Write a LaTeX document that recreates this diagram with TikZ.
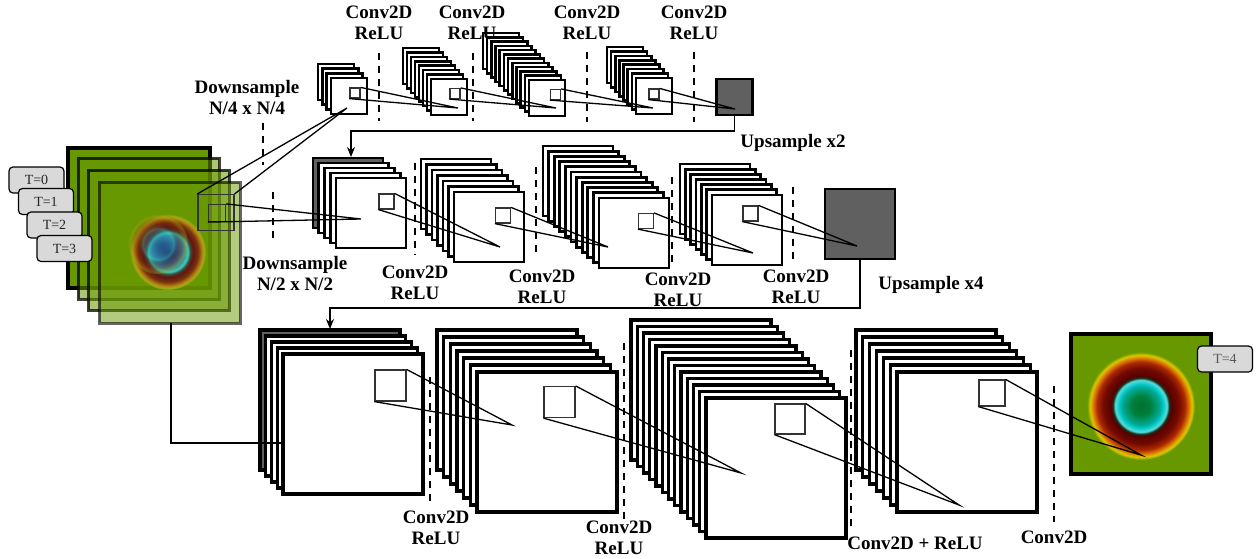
\documentclass[tikz,border=0pt]{standalone}
\usepackage{fontspec}
\setmainfont{Liberation Serif}
\usetikzlibrary{arrows.meta}

\definecolor{fgreen}{RGB}{104,152,0}
\definecolor{dgray}{RGB}{96,96,96}
\definecolor{tbox}{RGB}{217,217,217}

\definecolor{vo0}{RGB}{0,112,45}
\definecolor{vo1}{RGB}{0,128,60}
\definecolor{vo2}{RGB}{0,170,150}
\definecolor{vo3}{RGB}{0,200,200}
\definecolor{vo4}{RGB}{90,222,222}
\definecolor{vo5}{RGB}{20,60,30}
\definecolor{vo6}{RGB}{85,0,0}
\definecolor{vo7}{RGB}{115,10,0}
\definecolor{vo8}{RGB}{170,40,0}
\definecolor{vo9}{RGB}{220,120,0}
\definecolor{vo10}{RGB}{222,200,0}

\definecolor{vi0}{RGB}{30,50,110}
\definecolor{vi1}{RGB}{40,100,150}
\definecolor{vi2}{RGB}{50,150,170}
\definecolor{vi3}{RGB}{60,210,190}
\definecolor{vi4}{RGB}{60,80,60}
\definecolor{vi5}{RGB}{100,20,20}
\definecolor{vi6}{RGB}{120,50,10}
\definecolor{vi7}{RGB}{180,130,20}
\definecolor{vi8}{RGB}{170,170,20}

% TikZ maps a radius of 25bp of a radial shading onto the edge of the path
\pgfdeclareradialshading{vortexout}{\pgfpoint{0bp}{0bp}}{%
color(0bp)=(vo0); color(4.5bp)=(vo1); color(8.8bp)=(vo2); color(10.2bp)=(vo3);
color(12bp)=(vo4); color(13bp)=(vo5); color(13.9bp)=(vo6); color(17.5bp)=(vo7);
color(20.35bp)=(vo8); color(22.2bp)=(vo9); color(23.6bp)=(vo10); color(25bp)=(fgreen);
color(50bp)=(fgreen)}

\pgfdeclareradialshading{vortexin}{\pgfpoint{0bp}{0bp}}{%
color(0bp)=(vi0); color(6.5bp)=(vi1); color(11bp)=(vi2); color(13bp)=(vi3);
color(14.5bp)=(vi4); color(16.5bp)=(vi5); color(19.75bp)=(vi6); color(22.35bp)=(vi7);
color(23.7bp)=(vi8); color(25bp)=(fgreen); color(50bp)=(fgreen)}

% stack of feature maps: #1 layers, #2,#3 back corner, #4,#5 front corner, #6 size, #7 style, #8 extra style of back layer
\newcommand{\fmstack}[8]{%
  \pgfmathtruncatemacro{\fmlast}{#1-1}%
  \foreach \fmi in {0,...,\fmlast}{%
    \pgfmathsetmacro{\fmx}{#2+(#4-#2)*\fmi/\fmlast}%
    \pgfmathsetmacro{\fmy}{#3+(#5-#3)*\fmi/\fmlast}%
    \ifnum\fmi=0 \draw[#7,#8] (\fmx,\fmy) rectangle ++(#6,#6);%
    \else \draw[#7] (\fmx,\fmy) rectangle ++(#6,#6);\fi
  }%
}

\begin{document}
\begin{tikzpicture}[x=1pt,y=-1pt,
  layT/.style={fill=white,draw=black,line width=2.6pt},
  layM/.style={fill=white,draw=black,line width=2.9pt},
  layB/.style={fill=white,draw=black,line width=3.1pt},
  sq/.style={draw=black!80,fill=white,line width=1.2pt,inner sep=0pt,minimum size=#1},
  proj/.style={line width=1.3pt,draw=black},
  conn/.style={line width=1.3pt,draw=black},
  dsh/.style={line width=2.5pt,dash pattern=on 7pt off 6pt},
  lbl/.style={font=\fontsize{19}{21}\selectfont\bfseries,align=center,inner sep=0pt},
  tlab/.style={draw=black,fill=tbox,rounded corners=4pt,line width=1.2pt,minimum width=55pt,
    minimum height=26pt,inner sep=0pt,font=\fontsize{14}{16}\selectfont,text=black!85},
  graybox/.style={draw=black,fill=dgray,inner sep=0pt,minimum size=#1},
  inlay/.style={line width=3pt,draw=black,draw opacity=0.75,fill=fgreen,fill opacity=0.55}
]
\useasboundingbox (0,0) rectangle (1258,558);

% ---------- input stack ----------
\draw[line width=4pt,fill=fgreen] (68,148) rectangle (210,288);
\draw[inlay] (78,158) rectangle (219,299);
\draw[inlay] (88,170) rectangle (229,310);
\draw[inlay,draw opacity=0.6,fill opacity=0.5] (99,182) rectangle (240,323);
\shade[shading=vortexin] (168,252) circle[radius=38];
\begin{scope}[transparency group,opacity=0.35]
\shade[shading=vortexin] (158,244) circle[radius=30];
\end{scope}
\node[sq=36pt,fill=none] (sIn) at (216,212.5) {};
\node[sq=17pt,fill=none] (sInS) at (217,213) {};
\coordinate (inBot) at (171,323);

\node[tlab] (t0) at (36.5,180) {T=0};
\node[tlab] (t1) at (46,201.5) {T=1};
\node[tlab] (t2) at (54.5,225) {T=2};
\node[tlab] (t3) at (64.5,248.5) {T=3};

% ---------- top row ----------
\fmstack{4}{318}{64}{331}{78}{36}{layT}{}
\fmstack{8}{403}{48}{431}{79}{36}{layT}{}
\fmstack{12}{483}{33}{529}{80}{36}{layT}{}
\fmstack{8}{607}{47}{636}{78}{36}{layT}{}
\node[graybox=36pt,line width=2.5pt] (gT) at (734.5,97) {};

% ---------- middle row ----------
\fmstack{5}{313}{158}{336}{178}{70}{layM}{fill=dgray}
\fmstack{7}{421}{159}{454}{192}{70}{layM}{}
\fmstack{11}{543}{146}{599}{198}{70}{layM}{}
\fmstack{7}{680}{164}{712}{195}{70}{layM}{}
\node[graybox=70pt,line width=2.8pt] (gM) at (860,224) {};

% ---------- bottom row ----------
\fmstack{5}{260}{330}{283}{354}{140}{layB}{fill=dgray}
\fmstack{7}{437}{330}{477}{372}{140}{layB}{}
\fmstack{13}{631}{320}{706}{398}{140}{layB}{}
\fmstack{7}{856}{330}{897}{372}{140}{layB}{}
\node[draw=black,fill=fgreen,line width=4pt,inner sep=0pt,minimum size=140pt] (out) at (1141,403.5) {};
\shade[shading=vortexout] (1141,406) circle[radius=54];
\node[tlab,text=black!65] (t4) at (1225,359) {T=4};

% ---------- small squares ----------
\node[sq=10pt] (sT1) at (355,93) {};
\node[sq=10pt] (sT2) at (455,93.5) {};
\node[sq=10pt] (sT3) at (555.5,94.5) {};
\node[sq=10pt] (sT4) at (654,94) {};
\node[sq=15pt] (sM1) at (386.5,201.5) {};
\node[sq=15pt] (sM2) at (503,215.5) {};
\node[sq=15pt] (sM3) at (646,221) {};
\node[sq=15pt] (sM4) at (750.5,213.5) {};
\node[sq=31pt] (sB1) at (390.5,385.5) {};
\node[sq=31pt] (sB2) at (559.5,402) {};
\node[sq=30pt] (sB3) at (790,419) {};
\node[sq=26pt] (sB4) at (992,393) {};

% convergence points
\coordinate (cT1) at (347,108);
\coordinate (cT2) at (458,108);
\coordinate (cT3) at (556,108);
\coordinate (cT4) at (653,108);
\coordinate (cT5) at (735,109);
\coordinate (cM1) at (361,219);
\coordinate (cM2) at (500,247);
\coordinate (cM3) at (608,247);
\coordinate (cM4) at (753,253);
\coordinate (cM5) at (857,246);
\coordinate (cB2) at (512,425);
\coordinate (cB3) at (741,473);
\coordinate (cB4) at (959,505);
\coordinate (cOut) at (1141,455);

% ---------- projection lines ----------
\draw[proj] (sIn.north west) -- (cT1) -- (sIn.north east);
\draw[proj] (sInS.north east) -- (cM1) -- (sInS.south west);
\draw[proj] (sT1.north east) -- (cT2) -- (sT1.south west);
\draw[proj] (sT2.north east) -- (cT3) -- (sT2.south west);
\draw[proj] (sT3.north east) -- (cT4) -- (sT3.south west);
\draw[proj] (sT4.north east) -- (cT5) -- (sT4.south west);
\draw[proj] (sM1.north east) -- (cM2) -- (sM1.south west);
\draw[proj] (sM2.north east) -- (cM3) -- (sM2.south west);
\draw[proj] (sM3.north east) -- (cM4) -- (sM3.south west);
\draw[proj] (sM4.north east) -- (cM5) -- (sM4.south west);
\draw[proj] (sB1.north east) -- (cB2) -- (sB1.south west);
\draw[proj] (sB2.north east) -- (cB3) -- (sB2.south west);
\draw[proj] (sB3.north east) -- (cB4) -- (sB3.south west);
\draw[proj] (sB4.north east) -- (cOut) -- (sB4.south west);

% ---------- dashed separators ----------
\draw[dsh] (263,123) -- (263,165);
\draw[dsh] (379,53) -- (379,121);
\draw[dsh] (473,53) -- (473,121);
\draw[dsh] (587,52) -- (587,122);
\draw[dsh] (694,52) -- (694,122);
\draw[dsh] (273,192) -- (273,243);
\draw[dsh] (415,163) -- (415,255);
\draw[dsh] (536,167) -- (536,258);
\draw[dsh] (672,177) -- (672,263);
\draw[dsh] (793,187) -- (793,260);
\draw[dsh] (430,377) -- (430,502);
\draw[dsh] (624,343) -- (624,520);
\draw[dsh] (851,350) -- (851,530);
\draw[dsh] (1054,386) -- (1054,522);

% ---------- connectors ----------
\coordinate (kT) at (351,131);
\coordinate (aM1) at (351,157);
\coordinate (kM) at (330,308);
\coordinate (aB1) at (330,329);
\coordinate (inB1) at (283,443);
\draw[conn,-{Stealth[length=10pt,width=8pt]}] (gT.south) |- (kT) -- (aM1);
\draw[conn,-{Stealth[length=10pt,width=8pt]}] (gM.south) |- (kM) -- (aB1);
\draw[conn] (inBot) |- (inB1);

% ---------- labels ----------
\node[lbl] (lT1) at (379,23) {Conv2D\\ReLU};
\node[lbl] (lT2) at (472,23) {Conv2D\\ReLU};
\node[lbl] (lT3) at (587,23) {Conv2D\\ReLU};
\node[lbl] (lT4) at (694,23) {Conv2D\\ReLU};
\node[lbl] (lD4) at (247,97.5) {Downsample\\N/4 x N/4};
\node[lbl] (lU2) at (793,143) {Upsample x2};
\node[lbl] (lD2) at (295,273.5) {Downsample\\N/2 x N/2};
\node[lbl] (lM1) at (415,283) {Conv2D\\ReLU};
\node[lbl] (lM2) at (542,286.5) {Conv2D\\ReLU};
\node[lbl] (lM3) at (678,290) {Conv2D\\ReLU};
\node[lbl] (lM4) at (796,286.5) {Conv2D\\ReLU};
\node[lbl] (lU4) at (931,285) {Upsample x4};
\node[lbl] (lB1) at (436,528) {Conv2D\\ReLU};
\node[lbl] (lB2) at (619,538) {Conv2D\\ReLU};
\node[lbl] (lB3) at (915,543) {Conv2D + ReLU};
\node[lbl] (lB4) at (1054,537) {Conv2D};
\end{tikzpicture}
\end{document}
